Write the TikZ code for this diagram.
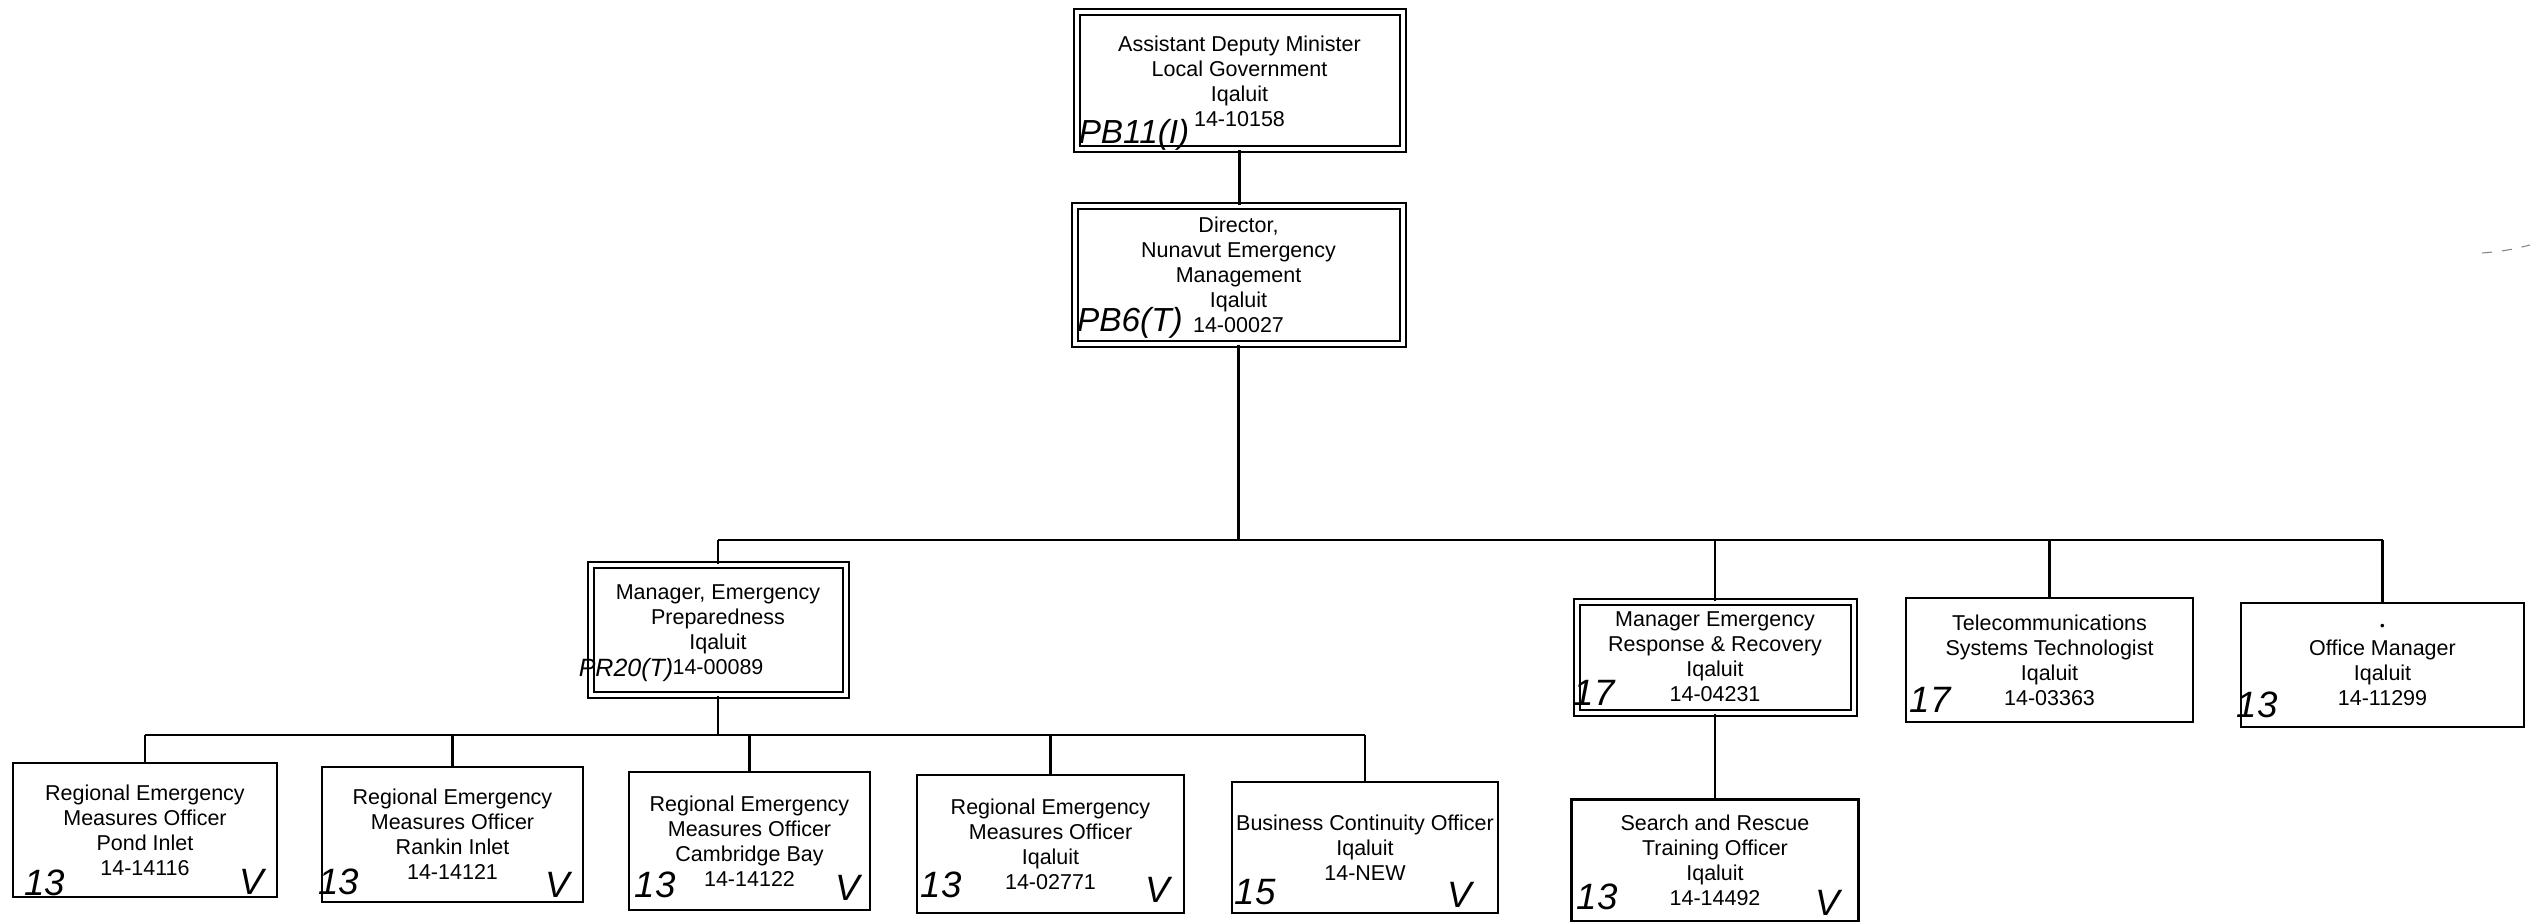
\documentclass[tikz,border=0pt]{standalone}
\usepackage{fontspec}
\setmainfont{Liberation Sans}
\begin{document}
\begin{tikzpicture}[x=0.3pt,y=-0.3pt,
  box/.style={draw, line width=0.8pt, inner sep=0pt, align=center,
    font=\fontsize{6.45}{7.5}\selectfont},
  dbox/.style={box, double, double distance=1.2pt, line width=0.6pt},
  wire/.style={line width=0.7pt},
  hand/.style={inner sep=0pt, font=\fontsize{11}{11}\selectfont\itshape},
  hands/.style={inner sep=0pt, font=\fontsize{10}{10}\selectfont\itshape}]
\useasboundingbox[fill=white] (0,0) rectangle (2539,921);

% top levels
\node[dbox, minimum width=100.5pt-2.7pt, minimum height=43.8pt-2.7pt] (adm) at (1239.5,81)
  {Assistant Deputy Minister\\Local Government\\Iqaluit\\14-10158};
\node[dbox, minimum width=101.1pt-2.7pt, minimum height=44.1pt-2.7pt] (dir) at (1238.5,274.5)
  {Director,\\Nunavut Emergency\\Management\\Iqaluit\\14-00027};

% second level
\node[dbox, minimum width=79.2pt-2.7pt, minimum height=41.7pt-2.7pt] (mep) at (718,629.5)
  {Manager, Emergency\\Preparedness\\Iqaluit\\14-00089};
\node[dbox, minimum width=85.8pt-2.7pt, minimum height=36pt-2.7pt] (merr) at (1715,657)
  {Manager Emergency\\Response \& Recovery\\Iqaluit\\14-04231};
\node[box, minimum width=86.1pt, minimum height=37.2pt] (tel) at (2049.5,660)
  {Telecommunications\\Systems Technologist\\Iqaluit\\14-03363};
\node[box, minimum width=84.9pt, minimum height=37.2pt] (off) at (2382.5,665)
  {{\fontsize{4}{4}\selectfont\textbullet}\\Office Manager\\Iqaluit\\14-11299};

% third level
\node[box, minimum width=79.2pt, minimum height=40.2pt] (rem1) at (145,830)
  {Regional Emergency\\Measures Officer\\Pond Inlet\\14-14116};
\node[box, minimum width=78.3pt, minimum height=40.5pt] (rem2) at (452.5,834.5)
  {Regional Emergency\\Measures Officer\\Rankin Inlet\\14-14121};
\node[box, minimum width=72.3pt, minimum height=41.4pt] (rem3) at (749.5,841)
  {Regional Emergency\\Measures Officer\\Cambridge Bay\\14-14122};
\node[box, minimum width=80.1pt, minimum height=41.4pt] (rem4) at (1050.5,844)
  {Regional Emergency\\Measures Officer\\Iqaluit\\14-02771};
\node[box, minimum width=79.8pt, minimum height=39.3pt] (bco) at (1365,847.5)
  {Business Continuity Officer\\Iqaluit\\14-NEW};
\node[box, minimum width=86.1pt, minimum height=36.6pt] (sar) at (1715,860.5)
  {Search and Rescue\\Training Officer\\Iqaluit\\14-14492};

% connectors
\coordinate (b1) at (1238,540);
\coordinate (b2) at (1238,735);
\draw[wire] (adm.south) -- (adm.south |- dir.north);
\draw[wire] (dir.south) -- (dir.south |- b1);
\draw[wire] (mep.north |- b1) -- (off.north |- b1);
\foreach \n in {mep,merr,tel,off}
  \draw[wire] (\n.north |- b1) -- (\n.north);
\draw[wire] (mep.south) -- (mep.south |- b2);
\draw[wire] (rem1.north |- b2) -- (bco.north |- b2);
\foreach \n in {rem1,rem2,rem3,rem4,bco}
  \draw[wire] (\n.north |- b2) -- (\n.north);
\draw[wire] (merr.south) -- (sar.north);

% handwritten annotations
\node[hands] (h1) at (1134,135) {PB11(I)};
\node[hands] (h2) at (1130,323) {PB6(T)};
\node[inner sep=0pt, font=\fontsize{7.5}{7.5}\selectfont\itshape] (h3) at (626,670) {PR20(T)};
\node[hand] (g1) at (45,883) {13};
\node[hand] (v1) at (252,882) {V};
\node[hand] (g2) at (339,882) {13};
\node[hand] (v2) at (558,885) {V};
\node[hand] (g3) at (655,885) {13};
\node[hand] (v3) at (848,888) {V};
\node[hand] (g4) at (941,885) {13};
\node[hand] (v4) at (1158,890) {V};
\node[hand] (g5) at (1255,892) {15};
\node[hand] (v5) at (1460,895) {V};
\node[hand] (g6) at (1597,897) {13};
\node[hand] (v6) at (1828,903) {V};
\node[hand] (g7) at (1594,693) {17};
\node[hand] (g8) at (1930,700) {17};
\node[hand] (g9) at (2257,705) {13};

% faint scan mark
\draw[gray, dashed, line width=0.3pt] (2482,253) to[bend right=5] (2530,245);
\end{tikzpicture}
\end{document}
